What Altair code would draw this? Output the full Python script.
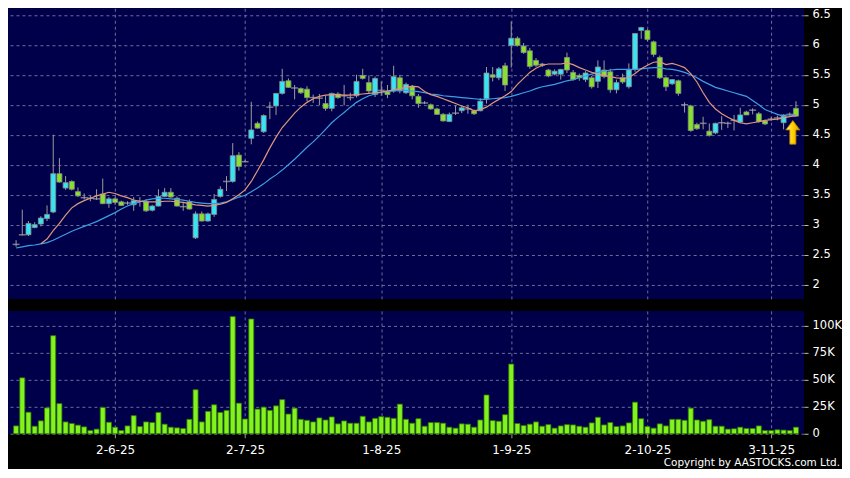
import json
import altair as alt
import pandas as pd

# ---- data (index = trading day, 0..126) ----
opens = [2.67, 2.83, 2.83, 2.95, 3.01, 3.10, 3.21, 3.85, 3.61, 3.72,
         3.55, 3.45, 3.44, 3.43, 3.51, 3.35, 3.43, 3.38, 3.36, 3.33,
         3.39, 3.38, 3.24, 3.31, 3.47, 3.54, 3.44, 3.30, 3.38, 2.78,
         3.18, 3.06, 3.17, 3.47, 3.72, 3.72, 4.16, 4.05, 4.44, 4.69,
         4.55, 4.96, 4.98, 5.19, 5.40, 5.28, 5.27, 5.26, 5.12, 5.11,
         5.02, 4.94, 5.18, 5.15, 5.12, 5.15, 5.49, 5.37, 5.17, 5.24,
         5.23, 5.23, 5.45, 5.20, 5.30, 5.14, 5.03, 5.00, 4.93, 4.84,
         4.72, 4.86, 4.90, 4.93, 4.90, 4.90, 5.10, 5.50, 5.45, 5.65,
         5.99, 6.11, 5.98, 5.90, 5.74, 5.68, 5.58, 5.51, 5.51, 5.79,
         5.54, 5.49, 5.42, 5.45, 5.39, 5.58, 5.55, 5.25, 5.45, 5.30,
         5.59, 6.24, 6.24, 6.05, 5.79, 5.45, 5.35, 5.40, 5.00, 4.98,
         4.67, 4.69, 4.56, 4.53, 4.70, 4.69, 4.74, 4.71, 4.88, 4.91,
         4.85, 4.73, 4.76, 4.78, 4.70, 4.84, 4.94]
highs = [2.74, 3.25, 3.06, 3.04, 3.14, 3.32, 4.50, 4.11, 3.81, 3.74,
         3.62, 3.52, 3.48, 3.59, 3.77, 3.46, 3.46, 3.40, 3.39, 3.46,
         3.46, 3.42, 3.33, 3.59, 3.61, 3.61, 3.47, 3.38, 3.42, 3.22,
         3.22, 3.20, 3.51, 3.64, 3.81, 4.36, 4.21, 4.08, 5.05, 4.72,
         4.84, 5.05, 5.19, 5.60, 5.44, 5.33, 5.29, 5.31, 5.17, 5.18,
         5.15, 5.20, 5.21, 5.33, 5.20, 5.50, 5.60, 5.49, 5.47, 5.39,
         5.33, 5.65, 5.50, 5.37, 5.33, 5.18, 5.06, 5.02, 4.95, 4.86,
         4.87, 4.99, 4.98, 5.00, 4.92, 5.11, 5.63, 5.63, 5.63, 5.70,
         6.39, 6.14, 6.03, 5.95, 5.78, 5.70, 5.60, 5.59, 5.60, 5.87,
         5.58, 5.52, 5.56, 5.48, 5.74, 5.74, 5.60, 5.42, 5.52, 5.69,
         6.19, 6.30, 6.26, 6.07, 5.82, 5.47, 5.43, 5.42, 5.04, 5.00,
         4.70, 4.80, 4.69, 4.70, 4.81, 4.72, 4.83, 4.95, 4.90, 4.94,
         4.88, 4.75, 4.80, 4.82, 4.84, 4.87, 5.06]
lows = [2.63, 2.82, 2.81, 2.94, 2.97, 3.06, 3.19, 3.70, 3.58, 3.57,
        3.46, 3.42, 3.39, 3.41, 3.34, 3.28, 3.33, 3.31, 3.33, 3.23,
        3.30, 3.21, 3.22, 3.30, 3.46, 3.45, 3.30, 3.23, 3.25, 2.76,
        3.05, 3.05, 3.13, 3.45, 3.56, 3.70, 3.90, 4.04, 4.34, 4.60,
        4.53, 4.76, 4.83, 5.17, 5.28, 5.09, 5.18, 5.06, 5.03, 4.99,
        4.90, 4.89, 5.10, 4.99, 5.07, 5.12, 5.42, 5.18, 5.13, 5.15,
        5.11, 5.20, 5.19, 5.18, 5.09, 4.95, 5.01, 4.92, 4.83, 4.72,
        4.71, 4.83, 4.86, 4.85, 4.83, 4.89, 5.02, 5.39, 5.41, 5.23,
        5.62, 5.97, 5.85, 5.60, 5.63, 5.63, 5.46, 5.49, 5.42, 5.53,
        5.40, 5.40, 5.38, 5.27, 5.28, 5.44, 5.20, 5.19, 5.35, 5.27,
        5.55, 6.10, 6.06, 5.80, 5.43, 5.23, 5.33, 5.15, 4.87, 4.55,
        4.58, 4.59, 4.47, 4.51, 4.58, 4.61, 4.57, 4.69, 4.83, 4.84,
        4.70, 4.66, 4.73, 4.74, 4.59, 4.80, 4.80]
closes = [2.67, 2.83, 3.02, 3.00, 3.11, 3.17, 3.85, 3.71, 3.70, 3.59,
          3.48, 3.45, 3.44, 3.43, 3.35, 3.43, 3.37, 3.32, 3.36, 3.40,
          3.39, 3.23, 3.31, 3.47, 3.54, 3.46, 3.31, 3.30, 3.26, 3.18,
          3.06, 3.18, 3.42, 3.59, 3.72, 4.15, 3.97, 4.05, 4.58, 4.61,
          4.82, 4.96, 5.19, 5.39, 5.29, 5.28, 5.20, 5.12, 5.12, 5.11,
          4.94, 5.19, 5.12, 5.15, 5.12, 5.39, 5.44, 5.23, 5.44, 5.24,
          5.17, 5.47, 5.23, 5.34, 5.15, 5.02, 5.03, 4.93, 4.84, 4.73,
          4.84, 4.86, 4.95, 4.93, 4.85, 5.06, 5.53, 5.46, 5.60, 5.33,
          6.11, 5.99, 5.87, 5.64, 5.66, 5.66, 5.48, 5.56, 5.59, 5.58,
          5.42, 5.45, 5.53, 5.30, 5.63, 5.47, 5.25, 5.37, 5.38, 5.58,
          6.19, 6.29, 6.09, 5.84, 5.45, 5.30, 5.42, 5.19, 5.00, 4.57,
          4.60, 4.69, 4.49, 4.69, 4.70, 4.69, 4.74, 4.83, 4.83, 4.91,
          4.72, 4.68, 4.76, 4.78, 4.83, 4.84, 4.81]
volumes_k = [7.3, 51.9, 20, 7, 12, 24, 91, 28, 11, 9.5,
             8, 6.4, 3, 4.3, 24.4, 10.7, 6.1, 3, 7.3, 16.8,
             6.7, 11, 10.4, 19.8, 8.9, 6.1, 5.5, 4.9, 13.4, 40.9,
             11, 20.8, 26.9, 19.8, 21.7, 108.7, 28.4, 13.7, 106.5, 22.9,
             24.7, 21.7, 25.9, 31.7, 18.3, 23.8, 13.4, 12.5, 11, 14.7,
             12.8, 15.6, 9.2, 11.9, 9.8, 9.8, 16.2, 11, 14.3, 15.9,
             15.3, 14.3, 27.5, 13.4, 9.8, 14, 7, 10.4, 10.4, 9.8,
             6.1, 5.2, 9.2, 8.9, 6.1, 12.8, 36, 12.2, 11.6, 17.7,
             64.7, 9.5, 7.6, 8.9, 11, 7, 8.5, 5.2, 7.3, 8.5,
             8.2, 7, 6.1, 10.1, 15.3, 8.2, 10.4, 6.7, 7.3, 10.1,
             29.3, 14, 6.7, 5.2, 9.2, 7.3, 13.4, 13.4, 12.5, 23.8,
             12.8, 11.6, 13.1, 7, 7, 4.3, 4.6, 6.1, 4.9, 4.9,
             7.3, 3, 3, 3.7, 3.4, 3, 6.1]
ma_short = [None, None, None, None, 2.68, 2.76, 2.90, 3.02, 3.16, 3.28,
            3.35, 3.40, 3.44, 3.48, 3.51, 3.54, 3.52, 3.48, 3.45, 3.41,
            3.39, 3.38, 3.38, 3.38, 3.39, 3.39, 3.38, 3.37, 3.35, 3.33,
            3.32, 3.31, 3.32, 3.34, 3.37, 3.43, 3.50, 3.58, 3.72, 3.90,
            4.08, 4.28, 4.46, 4.62, 4.74, 4.86, 4.96, 5.04, 5.10, 5.14,
            5.16, 5.17, 5.17, 5.16, 5.16, 5.17, 5.18, 5.19, 5.20, 5.21,
            5.23, 5.25, 5.27, 5.29, 5.31, 5.30, 5.22, 5.17, 5.14, 5.10,
            5.06, 5.02, 4.98, 4.95, 4.90, 4.92, 4.96, 5.03, 5.09, 5.15,
            5.22, 5.34, 5.44, 5.54, 5.61, 5.66, 5.68, 5.68, 5.68, 5.70,
            5.67, 5.62, 5.58, 5.54, 5.51, 5.49, 5.47, 5.45, 5.44, 5.45,
            5.52, 5.60, 5.66, 5.71, 5.72, 5.67, 5.69, 5.66, 5.62, 5.52,
            5.38, 5.20, 5.04, 4.93, 4.85, 4.79, 4.74, 4.70, 4.68, 4.70,
            4.72, 4.74, 4.75, 4.76, 4.78, 4.80, 4.82]
ma_long = [2.61, 2.63, 2.65, 2.66, 2.68, 2.70, 2.74, 2.79, 2.84, 2.89,
           2.93, 2.97, 3.01, 3.05, 3.10, 3.15, 3.20, 3.26, 3.31, 3.35,
           3.38, 3.41, 3.43, 3.44, 3.44, 3.43, 3.42, 3.41, 3.39, 3.37,
           3.36, 3.35, 3.35, 3.36, 3.38, 3.42, 3.46, 3.49, 3.55, 3.61,
           3.68, 3.76, 3.83, 3.91, 4.00, 4.09, 4.19, 4.29, 4.38, 4.48,
           4.59, 4.70, 4.79, 4.87, 4.96, 5.04, 5.10, 5.15, 5.18, 5.21,
           5.22, 5.23, 5.24, 5.24, 5.23, 5.22, 5.20, 5.18, 5.17, 5.15,
           5.14, 5.13, 5.12, 5.11, 5.10, 5.09, 5.09, 5.10, 5.11, 5.12,
           5.14, 5.17, 5.20, 5.23, 5.27, 5.30, 5.32, 5.34, 5.37, 5.40,
           5.42, 5.45, 5.48, 5.51, 5.54, 5.56, 5.58, 5.59, 5.59, 5.59,
           5.59, 5.60, 5.61, 5.62, 5.62, 5.60, 5.59, 5.57, 5.54, 5.50,
           5.45, 5.39, 5.34, 5.29, 5.26, 5.23, 5.20, 5.17, 5.14, 5.07,
           5.00, 4.92, 4.88, 4.84, 4.81, 4.81, 4.83]

date_tick_idx = [16, 37, 59, 80, 102, 122]
date_tick_labels = ["2-6-25", "2-7-25", "1-8-25", "1-9-25", "2-10-25", "3-11-25"]
price_ticks = [2, 2.5, 3, 3.5, 4, 4.5, 5, 5.5, 6, 6.5]
vol_ticks = [0, 25000, 50000, 75000, 100000]
arrow_idx = [125.5]
arrow_price = [4.54]
copyright_text = ["Copyright by AASTOCKS.com Ltd."]

# ---- table ----
n = len(closes)
df = pd.DataFrame({
    "i": list(range(n)),
    "open": opens, "high": highs, "low": lows, "close": closes,
    "vol": [v * 1000 for v in volumes_k],
    "ma_s": ma_short, "ma_l": ma_long,
})
df["dir"] = ["flat" if o == c else ("up" if c > o else "down") for o, c in zip(opens, closes)]

W = 797
H1 = 291
H2 = 123
FONT = "DejaVu Sans"
NAVY = "#00004a"
GRID = "#6c6c9c"

xscale = alt.Scale(domain=[-0.5, n - 0.5], nice=False, zero=False)
x_grid_axis = alt.Axis(values=date_tick_idx, labels=False, ticks=False, domain=False,
                       grid=True, gridColor=GRID, gridDash=[3, 3], gridWidth=1, title=None)
x_label_axis = alt.Axis(values=date_tick_idx, domain=False, grid=True, gridColor=GRID,
                        gridDash=[3, 3], gridWidth=1, ticks=True, tickColor="#9a9a9a",
                        tickSize=4, labelPadding=7, labelColor="#ffffff", labelFont=FONT,
                        labelFontSize=12,
                        labelExpr=f"{json.dumps(date_tick_labels)}[indexof({json.dumps(date_tick_idx)}, datum.value)]",
                        title=None)

pscale = alt.Scale(domain=[1.76, 6.61], nice=False, zero=False)
p_axis = alt.Axis(orient="right", values=price_ticks, domain=False, grid=True,
                  gridColor=GRID, gridDash=[3, 3], gridWidth=1, tickColor="#bbbbbb",
                  tickSize=4, labelPadding=4, labelColor="#ffffff", labelFont=FONT,
                  labelFontSize=11.5, labelExpr="format(datum.value, '')", title=None)

X = alt.X("i:Q", scale=xscale, axis=x_grid_axis)
base = alt.Chart(df)

wicks = base.mark_rule(color="#9c9c9c", strokeWidth=1).encode(
    x=X, y=alt.Y("low:Q", scale=pscale, axis=p_axis), y2="high:Q")
bodies = base.transform_filter("datum.dir != 'flat'").mark_bar(
    width=5, stroke="#8a8a8a", strokeWidth=0.8).encode(
    x=X, y=alt.Y("open:Q", scale=pscale, axis=p_axis), y2="close:Q",
    color=alt.Color("dir:N", scale=alt.Scale(domain=["up", "down"],
                                             range=["#36e4f4", "#86e22a"]), legend=None))
dojis = base.transform_filter("datum.dir == 'flat'").mark_tick(
    orient="horizontal", color="#a8a8a8", thickness=1.5, size=7).encode(
    x=X, y=alt.Y("close:Q", scale=pscale, axis=p_axis))
ma_l_line = base.mark_line(color="#3c9fe2", strokeWidth=1.2).encode(
    x=X, y=alt.Y("ma_l:Q", scale=pscale, axis=p_axis))
ma_s_line = base.transform_filter("isValid(datum.ma_s)").mark_line(
    color="#e0967a", strokeWidth=1.2).encode(
    x=X, y=alt.Y("ma_s:Q", scale=pscale, axis=p_axis))

arrow_path = "M0,-1 L0.6,-0.2 L0.26,-0.2 L0.26,1 L-0.26,1 L-0.26,-0.2 L-0.6,-0.2 Z"
arrow_fill = alt.Gradient(gradient="linear", x1=0, x2=1, y1=0, y2=0,
                          stops=[alt.GradientStop(color="#fff27a", offset=0),
                                 alt.GradientStop(color="#ffd000", offset=0.5),
                                 alt.GradientStop(color="#e89a00", offset=1)])
arrow = alt.Chart(pd.DataFrame({"i": arrow_idx, "p": arrow_price})).mark_point(
    shape=arrow_path, size=560, filled=True, fill=arrow_fill, stroke="#b07800",
    strokeWidth=0.8, opacity=1).encode(
    x=alt.X("i:Q", scale=xscale, axis=x_grid_axis),
    y=alt.Y("p:Q", scale=pscale, axis=p_axis))

price = alt.layer(wicks, bodies, dojis, ma_l_line, ma_s_line, arrow).properties(
    width=W, height=H1)

vscale = alt.Scale(domain=[0, 114000], nice=False, zero=True)
v_axis = alt.Axis(orient="right", values=vol_ticks, domain=False, grid=True,
                  gridColor=GRID, gridDash=[3, 3], gridWidth=1, tickColor="#bbbbbb",
                  tickSize=4, labelPadding=4, labelColor="#ffffff", labelFont=FONT,
                  labelFontSize=11.5,
                  labelExpr="datum.value == 0 ? '0' : format(datum.value / 1000, 'd') + 'K'",
                  title=None)
vol_bars = base.mark_bar(width=5, color="#84f21e", stroke="#2f7a00", strokeWidth=0.8).encode(
    x=alt.X("i:Q", scale=xscale, axis=x_label_axis),
    y=alt.Y("vol:Q", scale=vscale, axis=v_axis))
copyright = alt.Chart(pd.DataFrame({"t": copyright_text})).mark_text(
    align="right", baseline="middle", color="#ffffff", font=FONT, fontSize=10.5).encode(
    text="t:N", x=alt.value(W + 36), y=alt.value(H2 + 29))

volume = alt.layer(vol_bars, copyright).properties(width=W, height=H2)

chart = alt.vconcat(price, volume, spacing=12).properties(
    background="#000000", padding={"left": 0, "top": 0, "right": 0, "bottom": 0}
).configure_view(fill=NAVY, stroke=None)

chart.save("out.html", embed_options={"renderer": "svg", "actions": False})
